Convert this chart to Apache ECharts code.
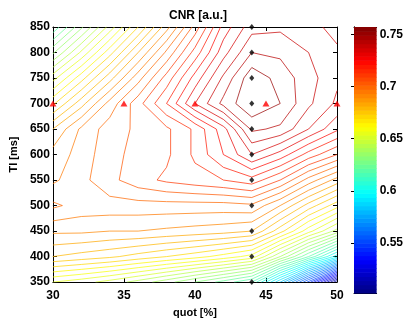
<!DOCTYPE html>
<html>
<head>
<meta charset="utf-8">
<script src="https://cdn.jsdelivr.net/npm/echarts@6/dist/echarts.min.js"></script>
<style>
  html, body { margin: 0; padding: 0; background: #fff; }
  #chart { width: 406px; height: 323px; }
</style>
</head>
<body>
<div id="chart"></div>
<script>
const quot = [30, 32, 34, 36, 38, 40, 42, 44, 46, 48, 50]
const ti = [350, 400, 450, 500, 550, 600, 650, 700, 750, 800, 850]
const cnr = [
  [0.655, 0.652, 0.648, 0.643, 0.637, 0.630, 0.623, 0.615, 0.585, 0.548, 0.505], // 350
  [0.680, 0.678, 0.676, 0.673, 0.670, 0.667, 0.663, 0.658, 0.640, 0.620, 0.597], // 400
  [0.691, 0.691, 0.690, 0.690, 0.689, 0.688, 0.687, 0.685, 0.672, 0.657, 0.643], // 450
  [0.701, 0.698, 0.698, 0.698, 0.698, 0.698, 0.698, 0.699, 0.690, 0.678, 0.667], // 500
  [0.694, 0.6985, 0.7035, 0.708, 0.711, 0.713, 0.715, 0.718, 0.710, 0.698, 0.688], // 550
  [0.692, 0.697, 0.7035, 0.7065, 0.709, 0.716, 0.725, 0.735, 0.728, 0.718, 0.710], // 600
  [0.685, 0.696, 0.7025, 0.706, 0.709, 0.716, 0.728, 0.746, 0.744, 0.735, 0.726], // 650
  [0.669, 0.683, 0.697, 0.708, 0.720, 0.735, 0.7465, 0.7545, 0.750, 0.741, 0.734], // 700
  [0.653, 0.668, 0.683, 0.698, 0.712, 0.727, 0.741, 0.7535, 0.748, 0.742, 0.736], // 750
  [0.634, 0.651, 0.668, 0.685, 0.701, 0.717, 0.733, 0.745, 0.744, 0.740, 0.736], // 800
  [0.616, 0.634, 0.652, 0.670, 0.688, 0.707, 0.727, 0.738, 0.739, 0.737, 0.733]  // 850
]
// optimization points
const diamondQuot = [44, 44, 44, 44, 44, 44, 44, 44, 44, 44, 44]
const diamondTi = [350, 400, 450, 500, 550, 600, 650, 700, 750, 800, 850]
const triQuot = [30, 35, 40, 45, 50]
const triTi = [700, 700, 700, 700, 700]
// colour scale
const cMin = 0.502
const cMax = 0.757
const cbarTicks = [0.55, 0.6, 0.65, 0.7, 0.75]
const levelStep = 0.005

// matlab jet colormap
function jet(t) {
  const c = v => Math.round(255 * Math.min(1, Math.max(0, v)))
  return 'rgb(' + c(1.5 - Math.abs(4 * t - 3)) + ',' + c(1.5 - Math.abs(4 * t - 2)) + ',' + c(1.5 - Math.abs(4 * t - 1)) + ')'
}
const jetIdx = v => {
  const k = Math.min(63, Math.max(0, Math.floor((v - cMin) / (cMax - cMin) * 64)))
  return jet((k + 0.5) / 64)
}

// marching squares on the grid, chained into polylines
function contourLines(level) {
  const pts = {}
  const adj = {}
  const link = (a, b) => {
    (adj[a] = adj[a] || []).push(b)
    ;(adj[b] = adj[b] || []).push(a)
  }
  for (let j = 0; j < ti.length - 1; j++) {
    for (let i = 0; i < quot.length - 1; i++) {
      const z = [cnr[j][i], cnr[j][i + 1], cnr[j + 1][i + 1], cnr[j + 1][i]]
      const cx = [quot[i], quot[i + 1], quot[i + 1], quot[i]]
      const cy = [ti[j], ti[j], ti[j + 1], ti[j + 1]]
      const keys = ['h' + i + '_' + j, 'v' + (i + 1) + '_' + j, 'h' + i + '_' + (j + 1), 'v' + i + '_' + j]
      const cross = []
      for (let e = 0; e < 4; e++) {
        const a = e, b = (e + 1) % 4
        if ((z[a] >= level) !== (z[b] >= level)) {
          cross.push(e)
          if (!pts[keys[e]]) {
            const t = (level - z[a]) / (z[b] - z[a])
            pts[keys[e]] = [cx[a] + t * (cx[b] - cx[a]), cy[a] + t * (cy[b] - cy[a])]
          }
        }
      }
      if (cross.length === 2) {
        link(keys[cross[0]], keys[cross[1]])
      } else if (cross.length === 4) {
        const center = (z[0] + z[1] + z[2] + z[3]) / 4
        if ((center >= level) === (z[0] >= level)) {
          link(keys[0], keys[1]); link(keys[2], keys[3])
        } else {
          link(keys[3], keys[0]); link(keys[1], keys[2])
        }
      }
    }
  }
  const seen = new Set()
  const lines = []
  const walk = start => {
    const line = [pts[start]]
    seen.add(start)
    let cur = start
    while (true) {
      const next = adj[cur].find(k => !seen.has(k))
      if (!next) break
      seen.add(next)
      line.push(pts[next])
      cur = next
    }
    return line
  }
  Object.keys(adj).forEach(k => { if (adj[k].length === 1 && !seen.has(k)) lines.push(walk(k)) })
  Object.keys(adj).forEach(k => {
    if (!seen.has(k)) { const l = walk(k); l.push(l[0]); lines.push(l) }
  })
  return lines
}

const series = []
for (let n = Math.ceil(cMin / levelStep); n * levelStep < cMax; n++) {
  const lv = n * levelStep
  const color = jetIdx(lv)
  contourLines(lv).forEach(line => {
    series.push({
      type: 'line',
      xAxisIndex: 0,
      yAxisIndex: 0,
      data: line,
      symbol: 'none',
      silent: true,
      lineStyle: { color: color, width: 1, opacity: 0.72 },
      z: 2
    })
  })
}

series.push({
  type: 'scatter',
  xAxisIndex: 0,
  yAxisIndex: 0,
  data: diamondQuot.map((q, i) => [q, diamondTi[i]]),
  symbol: 'diamond',
  symbolSize: [5, 6],
  itemStyle: { color: '#000' },
  clip: false,
  z: 5
})
series.push({
  type: 'scatter',
  xAxisIndex: 0,
  yAxisIndex: 0,
  data: triQuot.map((q, i) => [q, triTi[i]]),
  symbol: 'triangle',
  symbolSize: [7, 6],
  itemStyle: { color: '#ff0000' },
  clip: false,
  z: 5
})

// colorbar: 64 bands
const bands = []
for (let k = 0; k < 64; k++) bands.push(k)
series.push({
  type: 'custom',
  xAxisIndex: 2,
  yAxisIndex: 2,
  data: bands,
  silent: true,
  renderItem: function (params, api) {
    const k = api.value(0)
    const v0 = cMin + (cMax - cMin) * k / 64
    const v1 = cMin + (cMax - cMin) * (k + 1) / 64
    const p0 = api.coord([0, v0])
    const p1 = api.coord([1, v1])
    return {
      type: 'rect',
      shape: { x: p0[0], y: p1[1], width: p1[0] - p0[0], height: p0[1] - p1[1] + 0.6 },
      style: { fill: jet((k + 0.5) / 64) }
    }
  },
  z: 1
})

const font = { fontFamily: 'Liberation Sans, Arial, sans-serif', fontWeight: 'bold', fontSize: 12, color: '#000' }
const line = { show: true, lineStyle: { color: '#000', width: 1 } }
const tick = { show: true, inside: true, length: 4, lineStyle: { color: '#000' } }

const option = {
  animation: false,
  backgroundColor: '#fff',
  title: {
    text: 'CNR [a.u.]',
    left: 193,
    top: 5,
    textAlign: 'center',
    textStyle: Object.assign({}, font)
  },
  grid: [
    { left: 48, top: 27, width: 289, height: 266 },
    { left: 354, top: 27, width: 26, height: 266 }
  ],
  xAxis: [
    {
      gridIndex: 0, type: 'value', min: 30, max: 50, interval: 5,
      name: 'quot [%]', nameLocation: 'middle', nameGap: 23, nameTextStyle: Object.assign({}, font, { fontSize: 11 }),
      axisLine: line, axisTick: tick, axisLabel: Object.assign({ margin: 8 }, font), splitLine: { show: false }
    },
    {
      gridIndex: 0, type: 'value', min: 30, max: 50, interval: 5, position: 'top',
      axisLine: line, axisTick: tick, axisLabel: { show: false }, splitLine: { show: false }
    },
    {
      gridIndex: 1, type: 'value', min: 0, max: 1,
      axisLine: line, axisTick: { show: false }, axisLabel: { show: false }, splitLine: { show: false }
    },
    {
      gridIndex: 1, type: 'value', min: 0, max: 1, position: 'top',
      axisLine: line, axisTick: { show: false }, axisLabel: { show: false }, splitLine: { show: false }
    }
  ],
  yAxis: [
    {
      gridIndex: 0, type: 'value', min: 350, max: 850, interval: 50,
      name: 'TI [ms]', nameLocation: 'middle', nameGap: 31, nameTextStyle: Object.assign({}, font, { fontSize: 11 }),
      axisLine: line, axisTick: tick, axisLabel: Object.assign({ margin: 3 }, font), splitLine: { show: false }
    },
    {
      gridIndex: 0, type: 'value', min: 350, max: 850, interval: 50, position: 'right',
      axisLine: line, axisTick: tick, axisLabel: { show: false }, splitLine: { show: false }
    },
    {
      gridIndex: 1, type: 'value', min: cMin, max: cMax, position: 'right',
      axisLine: line,
      axisTick: Object.assign({}, tick, { length: 3, customValues: cbarTicks }),
      axisLabel: Object.assign({ margin: 3, customValues: cbarTicks }, font),
      splitLine: { show: false }
    },
    {
      gridIndex: 1, type: 'value', min: cMin, max: cMax, position: 'left',
      axisLine: line,
      axisTick: Object.assign({}, tick, { length: 3, customValues: cbarTicks }),
      axisLabel: { show: false },
      splitLine: { show: false }
    }
  ],
  series: series
}

const chart = echarts.init(document.getElementById('chart'))
chart.setOption(option)
</script>
</body>
</html>
